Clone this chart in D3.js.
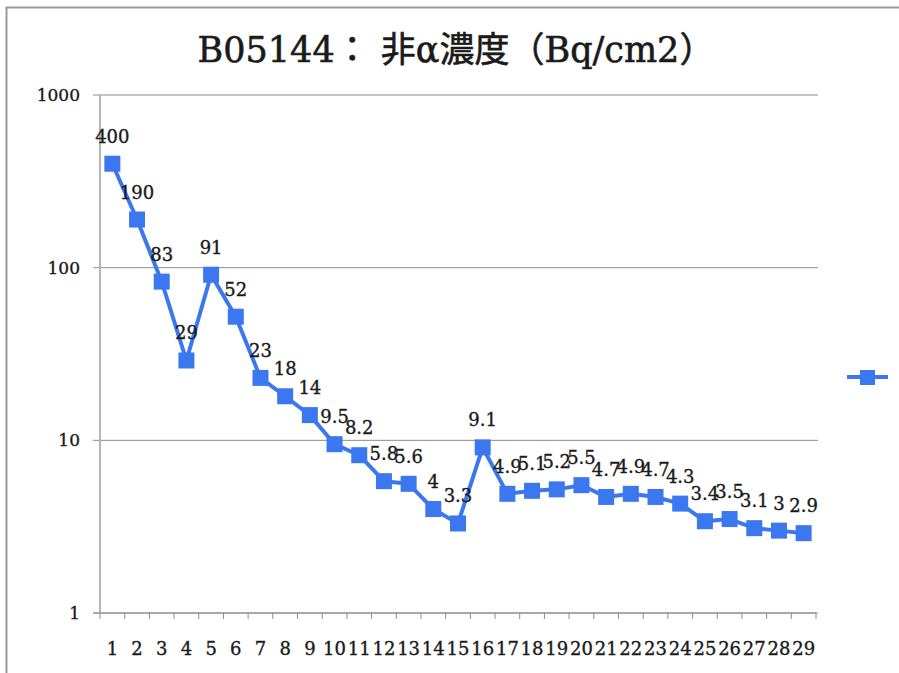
<!DOCTYPE html>
<html>
<head>
<meta charset="utf-8">
<script src="https://cdn.jsdelivr.net/npm/d3@7"></script>
<style>
  body { margin: 0; background: #fff; }
  text { font-family: "DejaVu Serif", "Liberation Serif", "Noto Sans CJK JP", serif; fill: #1a1a1a; stroke: #1a1a1a; stroke-width: 0.35px; }
</style>
</head>
<body>
<script>
// chart data
const categories = d3.range(1, 30).map(String);
const values = [400, 190, 83, 29, 91, 52, 23, 18, 14, 9.5, 8.2, 5.8, 5.6, 4, 3.3, 9.1,
                4.9, 5.1, 5.2, 5.5, 4.7, 4.9, 4.7, 4.3, 3.4, 3.5, 3.1, 3, 2.9];
const yTicks = [1, 10, 100, 1000];
const title = "B05144：  非α濃度（Bq/cm2）";

const width = 899, height = 673;
const plot = {left: 100, right: 816, top: 95, bottom: 613};
const blue = "#3b78ef";

const svg = d3.select("body").append("svg")
    .attr("width", width)
    .attr("height", height);

// outer frame of the chart
svg.append("rect")
    .attr("x", 6.5).attr("y", 7.5)
    .attr("width", 1000).attr("height", 1000)
    .attr("fill", "none")
    .attr("stroke", "#999")
    .attr("stroke-width", 2);

const x = d3.scaleBand()
    .domain(categories)
    .range([plot.left, plot.right]);

const y = d3.scaleLog()
    .domain([1, 1000])
    .range([plot.bottom, plot.top]);

// gridlines
svg.append("g")
    .selectAll("line")
    .data(yTicks)
    .enter().append("line")
    .attr("x1", plot.left - 7).attr("x2", plot.right + 2)
    .attr("y1", d => y(d)).attr("y2", d => y(d))
    .attr("stroke", "#8c8c8c")
    .attr("stroke-width", 1);

// y axis
const yAxis = svg.append("g")
    .attr("transform", "translate(" + plot.left + ",0)")
    .call(d3.axisLeft(y).tickValues(yTicks).tickFormat(d3.format("d")).tickSize(7).tickPadding(13));
yAxis.select(".domain").attr("stroke", "#b5b5b5").attr("stroke-width", 2).attr("d", "M0," + plot.top + "V" + plot.bottom);
yAxis.selectAll(".tick line").remove();
yAxis.selectAll("text").style("font-size", "17px").attr("fill", null);

// x axis
const xAxis = svg.append("g")
    .attr("transform", "translate(0," + plot.bottom + ")")
    .call(d3.axisBottom(x).tickSize(0).tickPadding(29));
xAxis.select(".domain").remove();
xAxis.selectAll("text").style("font-size", "18px").attr("fill", null);
xAxis.selectAll(".ticks")
    .data(d3.range(categories.length + 1))
    .enter().append("line")
    .attr("x1", d => plot.left + d * x.step()).attr("x2", d => plot.left + d * x.step())
    .attr("y1", 0).attr("y2", 6)
    .attr("stroke", "#8c8c8c");
xAxis.append("line")
    .attr("x1", plot.left - 7).attr("x2", plot.right)
    .attr("stroke", "#8c8c8c");

const cx = d => x(d) + x.bandwidth() / 2;

// series line
svg.append("path")
    .datum(values)
    .attr("fill", "none")
    .attr("stroke", blue)
    .attr("stroke-width", 4)
    .attr("stroke-linejoin", "round")
    .attr("d", d3.line().x((d, i) => cx(categories[i])).y(d => y(d)));

// markers
svg.append("g")
    .selectAll("rect")
    .data(values)
    .enter().append("rect")
    .attr("x", (d, i) => cx(categories[i]) - 8)
    .attr("y", d => y(d) - 8)
    .attr("width", 16).attr("height", 16)
    .attr("fill", blue);

// data labels (overlapping as in the original chart)
svg.append("g")
    .selectAll("text")
    .data(values)
    .enter().append("text")
    .attr("x", (d, i) => cx(categories[i]))
    .attr("y", d => y(d) - 21)
    .attr("text-anchor", "middle")
    .style("font-size", "18px")
    .text(d => d);

// title
svg.append("text")
    .attr("x", 456).attr("y", 62)
    .attr("text-anchor", "middle")
    .style("font-size", "35px")
    .style("stroke-width", "0.6px")
    .text(title);

// legend
svg.append("line")
    .attr("x1", 847).attr("x2", 888)
    .attr("y1", 377).attr("y2", 377)
    .attr("stroke", blue).attr("stroke-width", 4);
svg.append("rect")
    .attr("x", 860).attr("y", 370)
    .attr("width", 15).attr("height", 15)
    .attr("fill", blue);
</script>
</body>
</html>
